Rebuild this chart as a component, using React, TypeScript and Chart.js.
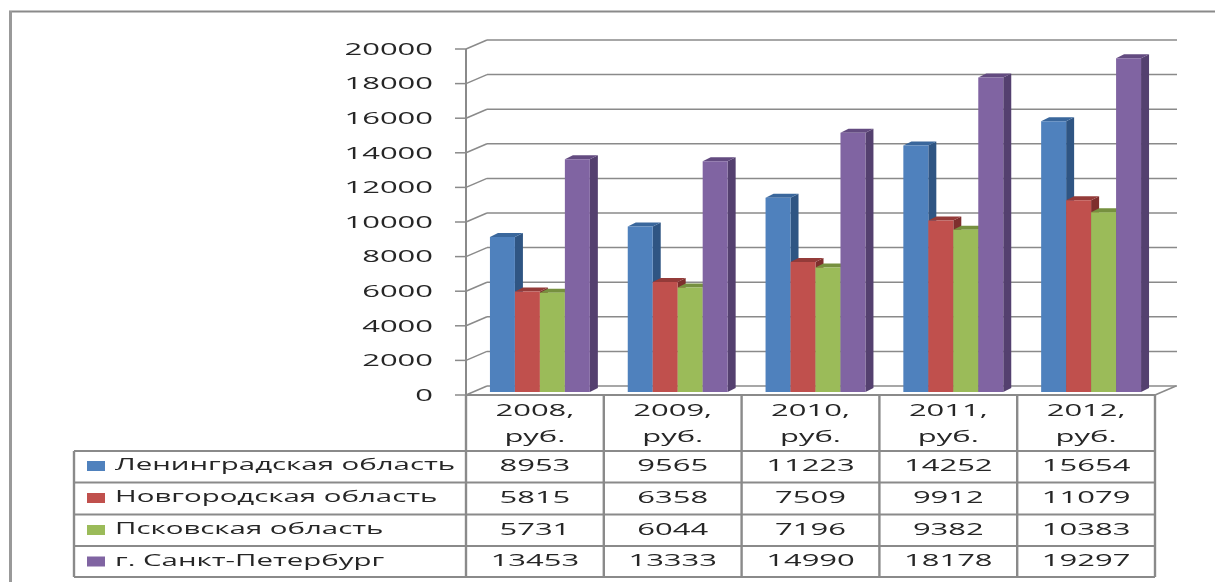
import React, { useEffect, useRef } from "react";
import { Chart, registerables } from "chart.js";

Chart.register(...registerables);

const categories = ["2008,", "2009,", "2010,", "2011,", "2012,"];
const unit = "руб.";
const seriesNames = ["Ленинградская область", "Новгородская область", "Псковская область", "г. Санкт-Петербург"];
const leningrad = [8953, 9565, 11223, 14252, 15654];
const novgorod = [5815, 6358, 7509, 9912, 11079];
const pskov = [5731, 6044, 7196, 9382, 10383];
const spb = [13453, 13333, 14990, 18178, 19297];
const allSeries = [leningrad, novgorod, pskov, spb];
const faceColors = ["#4F81BD", "#C0504D", "#9BBB59", "#8064A2"];
const sideColors = ["#2F5583", "#7E2F2D", "#627C33", "#54406F"];
const topColors = ["#3A679C", "#943B39", "#76903F", "#634B80"];

const GRID = "#8A8A8A";
const TEXT = "#262626";
const FONT = '17px "Open Sans"';
const STRETCH = 1.82;
const LABEL_STRETCH = 1.73;
const BACK_X = 21;
const BACK_Y = 9;
const BAR_X = 5;
const BAR_Y = 3;
const DEPTH_X = 8;
const DEPTH_Y = 4;

function stretched(
  ctx: CanvasRenderingContext2D,
  text: string,
  x: number,
  y: number,
  align: "left" | "center" | "right",
  sx = STRETCH,
) {
  ctx.save();
  ctx.font = FONT;
  ctx.fillStyle = TEXT;
  ctx.textBaseline = "middle";
  ctx.textAlign = align;
  ctx.translate(x, y);
  ctx.scale(sx, 1);
  ctx.fillText(text, 0, 0);
  ctx.restore();
}

function line(ctx: CanvasRenderingContext2D, x1: number, y1: number, x2: number, y2: number, w = 1.5) {
  ctx.lineWidth = w;
  ctx.beginPath();
  ctx.moveTo(x1, y1);
  ctx.lineTo(x2, y2);
  ctx.stroke();
}

const wallPlugin = {
  id: "wall",
  beforeDatasetsDraw(chart: any) {
    const { ctx, scales, chartArea } = chart;
    const y = scales.y;
    ctx.save();
    ctx.strokeStyle = GRID;
    // outer frame
    line(ctx, 9, 11.5, 1215, 11.5, 2);
    ctx.strokeStyle = "#999999";
    line(ctx, 10.5, 11, 10.5, 582, 3);
    ctx.strokeStyle = GRID;
    y.ticks.forEach((t: any) => {
      const py = y.getPixelForValue(t.value);
      line(ctx, chartArea.left, py, chartArea.left + BACK_X, py - BACK_Y);
      line(ctx, chartArea.left + BACK_X, py - BACK_Y, chartArea.right + BACK_X + 1, py - BACK_Y);
      line(ctx, chartArea.left - 11, py, chartArea.left, py);
      stretched(ctx, String(t.value), chartArea.left - 33, py + 1, "right");
    });
    line(ctx, chartArea.left, chartArea.top, chartArea.left, chartArea.bottom, 2);
    line(ctx, chartArea.left, chartArea.bottom, chartArea.right, chartArea.bottom, 2);
    line(ctx, chartArea.right, chartArea.bottom, chartArea.right + BACK_X, chartArea.bottom - BACK_Y);
    ctx.restore();

    // Bars go left to right, so each front face covers its left neighbour's side face.
    allSeries.forEach((_, index) => {
      const meta = chart.getDatasetMeta(index);
      ctx.save();
      ctx.translate(BAR_X, -BAR_Y);
      meta.data.forEach((bar: any) => {
        const l = bar.x - bar.width / 2;
        const r = bar.x + bar.width / 2;
        ctx.fillStyle = sideColors[index];
        ctx.beginPath();
        ctx.moveTo(r, bar.y);
        ctx.lineTo(r + DEPTH_X, bar.y - DEPTH_Y);
        ctx.lineTo(r + DEPTH_X, bar.base - DEPTH_Y);
        ctx.lineTo(r, bar.base);
        ctx.closePath();
        ctx.fill();
        ctx.fillStyle = topColors[index];
        ctx.beginPath();
        ctx.moveTo(l, bar.y);
        ctx.lineTo(l + DEPTH_X, bar.y - DEPTH_Y);
        ctx.lineTo(r + DEPTH_X, bar.y - DEPTH_Y);
        ctx.lineTo(r, bar.y);
        ctx.closePath();
        ctx.fill();
      });
      meta.controller.draw();
      ctx.restore();
    });
  },
  beforeDatasetDraw() {
    return false;
  },
  afterDatasetsDraw(chart: any) {
    const { ctx, scales, chartArea } = chart;
    const x = scales.x;
    const half = (x.getPixelForTick(1) - x.getPixelForTick(0)) / 2;
    const left = 74;
    const rows = [451, 482.5, 514.5, 546, 577];
    const rowMid = [466, 498, 530, 561.5];
    ctx.save();
    ctx.strokeStyle = GRID;
    categories.forEach((c, i) => {
      const cx = x.getPixelForTick(i);
      line(ctx, cx + half, chartArea.bottom, cx + half, rows[4], 2.4);
      stretched(ctx, c, cx, 411, "center");
      stretched(ctx, unit, cx, 437, "center");
      allSeries.forEach((s, r) => stretched(ctx, String(s[i]), cx, rowMid[r], "center"));
    });
    line(ctx, chartArea.left, chartArea.bottom, chartArea.left, rows[4], 2.4);
    line(ctx, left, rows[0], left, rows[4], 2.4);
    rows.forEach((ry) => line(ctx, left, ry, chartArea.right, ry, 2.2));
    seriesNames.forEach((n, r) => {
      ctx.fillStyle = faceColors[r];
      ctx.fillRect(87, rowMid[r] - 5, 18, 10);
      stretched(ctx, n, 115, rowMid[r] - 0.5, "left", LABEL_STRETCH);
    });
    ctx.restore();
  },
};

export default function App() {
  const ref = useRef<HTMLCanvasElement>(null);
  useEffect(() => {
    const chart = new Chart(ref.current!, {
      type: "bar",
      data: {
        labels: categories.map((c) => `${c} ${unit}`),
        datasets: allSeries.map((s, i) => ({
          label: seriesNames[i],
          data: s,
          backgroundColor: faceColors[i],
          borderWidth: 0,
          categoryPercentage: 0.725,
          barPercentage: 1,
        })),
      },
      options: {
        animation: false,
        responsive: false,
        devicePixelRatio: 1,
        layout: { padding: { top: 49, right: 60, bottom: 0, left: 0 } },
        plugins: { legend: { display: false }, tooltip: { enabled: false } },
        scales: {
          x: {
            grid: { display: false },
            border: { display: false },
            ticks: { display: false },
            afterFit: (s: any) => { s.height = 187; },
          },
          y: {
            min: 0,
            max: 20000,
            grid: { display: false },
            border: { display: false },
            ticks: { display: false, stepSize: 2000 },
            afterFit: (s: any) => { s.width = 466; },
          },
        },
      },
      plugins: [wallPlugin],
    } as any);
    return () => chart.destroy();
  }, []);
  return (
    <canvas
      ref={ref}
      width={1215}
      height={582}
      style={{ position: "absolute", left: 0, top: 0, width: 1215, height: 582, display: "block", filter: "blur(0.4px)" }}
    />
  );
}
